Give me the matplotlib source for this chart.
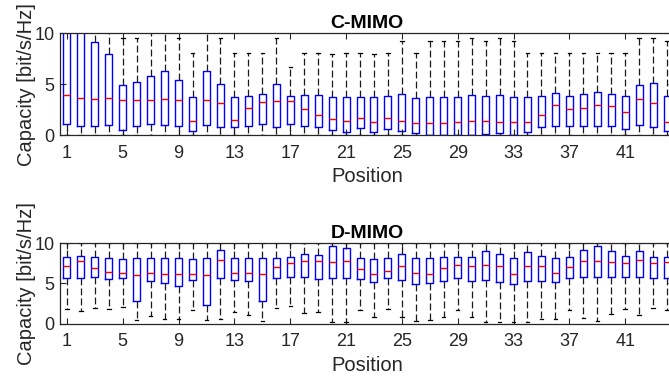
import matplotlib
matplotlib.use("Agg")
import matplotlib.pyplot as plt

plt.rcParams['font.family'] = ['Liberation Sans', 'DejaVu Sans']

# per-position capacity statistics [bit/s/Hz]
positions = list(range(1, 45))

# C-MIMO
c_med = [3.98, 3.59, 3.52, 3.59, 3.45, 3.49, 3.49, 3.55, 3.49, 1.38, 3.49, 3.19, 1.50, 2.67,
         3.27, 3.37, 3.30, 2.57, 2.00, 1.56, 1.33, 1.65, 1.23, 1.70, 1.42, 1.16, 1.19, 1.22,
         1.32, 1.35, 1.35, 1.32, 1.25, 1.32, 1.97, 2.93, 2.53, 2.66, 2.93, 2.89, 2.24, 3.55,
         3.19, 1.23]
c_q1 = [1.09, 0.89, 0.92, 0.99, 0.53, 0.89, 1.12, 0.95, 0.86, 0.39, 0.99, 0.76, 0.76, 0.92,
        1.05, 0.76, 1.12, 0.89, 0.76, 0.53, 0.26, 0.66, 0.26, 0.62, 0.36, 0.23, 0.0, 0.0,
        0.0, 0.0, 0.13, 0.20, 0.0, 0.30, 0.79, 0.86, 0.89, 0.89, 0.86, 0.86, 0.56, 1.02,
        0.79, 0.40]
c_q3 = [11.5, 11.0, 9.14, 8.00, 4.93, 5.26, 5.82, 6.25, 5.36, 3.72, 6.25, 4.97, 3.72, 3.88,
        4.05, 4.97, 3.85, 3.98, 3.95, 3.72, 3.78, 3.75, 3.72, 3.85, 4.01, 3.65, 3.78, 3.78,
        3.78, 3.98, 3.88, 3.98, 3.78, 3.75, 3.85, 4.14, 3.88, 4.05, 4.18, 4.08, 3.85, 4.93,
        5.07, 3.85]
c_lo = [0.0] * 44
c_hi = [14.0, 14.0, 12.0, 11.0, 9.55, 9.55, 11.0, 11.0, 9.55, 8.09, 11.0, 9.55, 8.06, 8.06,
        8.03, 9.57, 6.66, 8.09, 8.03, 7.99, 8.03, 8.06, 7.99, 8.03, 9.24, 8.03, 9.22, 9.22,
        9.22, 9.54, 9.21, 9.54, 9.20, 8.03, 8.03, 8.03, 8.03, 8.03, 8.03, 8.03, 8.03, 9.57,
        9.57, 9.28]

# D-MIMO
d_med = [7.14, 7.76, 6.89, 6.39, 6.35, 6.02, 6.35, 6.22, 6.14, 6.22, 6.10, 7.88, 6.31, 6.27,
         6.14, 7.10, 7.55, 7.84, 7.80, 7.68, 7.80, 6.76, 6.14, 6.51, 7.22, 6.27, 6.22, 6.93,
         7.30, 7.22, 7.26, 7.22, 6.14, 7.22, 7.22, 6.27, 7.05, 7.84, 7.80, 7.68, 7.59, 7.97,
         7.51, 7.63]
d_q1 = [5.68, 5.64, 5.77, 5.60, 5.68, 2.86, 5.27, 5.06, 4.65, 5.48, 2.32, 5.68, 5.44, 5.31,
        2.78, 5.68, 5.81, 5.77, 5.60, 5.68, 5.68, 5.56, 5.15, 5.64, 5.48, 4.98, 5.10, 5.35,
        5.64, 5.31, 5.44, 5.19, 4.90, 5.27, 5.27, 5.15, 5.64, 5.77, 5.81, 5.77, 5.77, 5.85,
        5.68, 5.68]
d_q3 = [8.26, 8.46, 8.26, 8.17, 8.05, 8.17, 8.17, 8.13, 8.17, 8.09, 8.17, 9.13, 8.17, 8.13,
        8.17, 8.13, 8.26, 8.67, 8.55, 9.63, 9.38, 8.17, 8.09, 8.17, 8.67, 8.22, 8.17, 8.26,
        8.30, 8.34, 9.09, 8.63, 8.17, 8.92, 8.46, 8.17, 8.26, 9.17, 9.67, 9.00, 8.38, 9.09,
        8.26, 8.30]
d_lo = [1.78, 1.58, 1.95, 1.83, 2.07, 0.41, 0.95, 0.62, 0.62, 1.66, 0.46, 0.62, 1.41, 1.08,
        0.37, 1.99, 2.20, 1.37, 1.49, 0.17, 0.17, 1.66, 0.83, 1.87, 0.79, 0.25, 0.46, 0.87,
        1.74, 0.79, 0.21, 0.21, 0.21, 0.21, 0.62, 0.58, 1.70, 0.71, 0.33, 1.24, 1.78, 1.04,
        1.91, 1.74]
d_hi = [10.0] * 44

xticks = list(range(1, 45, 4))
yticks = [0, 5, 10]

W, H = 669, 379
fig = plt.figure(figsize=(W / 100, H / 100), dpi=100)

def make_stats(med, q1, q3, lo, hi):
    return [dict(med=m, q1=a, q3=b, whislo=l, whishi=h, fliers=[])
            for m, a, b, l, h in zip(med, q1, q3, lo, hi)]

def boxpanel(rect, stats, title):
    ax = fig.add_axes(rect)
    ax.bxp(stats, positions=positions, widths=0.5, capwidths=0.25,
           showfliers=False, manage_ticks=False,
           boxprops=dict(color='#0000ff', lw=1.0),
           medianprops=dict(color='#ff0000', lw=1.0),
           whiskerprops=dict(color='#1a1a1a', lw=0.9, linestyle=(0, (5.5, 2.5))),
           capprops=dict(color='black', lw=0.9))
    ax.set_xlim(0.5, 44.5)
    ax.set_ylim(0, 10)
    ax.set_xticks(xticks)
    ax.set_xticklabels([str(t) for t in xticks])
    ax.set_yticks(yticks)
    ax.tick_params(axis='both', direction='in', top=True, right=True, length=4,
                   width=0.8, labelsize=13, colors='#262626')
    ax.tick_params(axis='x', pad=7)
    ax.tick_params(axis='y', pad=4)
    for s in ax.spines.values():
        s.set_color('#262626')
        s.set_linewidth(0.9)
    ax.set_xlabel('Position', fontsize=14.5, color='#262626', labelpad=4)
    ax.set_ylabel('Capacity [bit/s/Hz]', fontsize=14.5, color='#262626', labelpad=-1)
    ax.set_title(title, fontsize=14, fontweight='bold', color='black', pad=4)
    return ax

left = 60 / W
width = 614 / W
boxpanel([left, 1 - 135 / H, width, 101.7 / H],
         make_stats(c_med, c_q1, c_q3, c_lo, c_hi), 'C-MIMO')
boxpanel([left, 1 - 323.5 / H, width, 80.2 / H],
         make_stats(d_med, d_q1, d_q3, d_lo, d_hi), 'D-MIMO')

fig.savefig('out.png', dpi=100)
